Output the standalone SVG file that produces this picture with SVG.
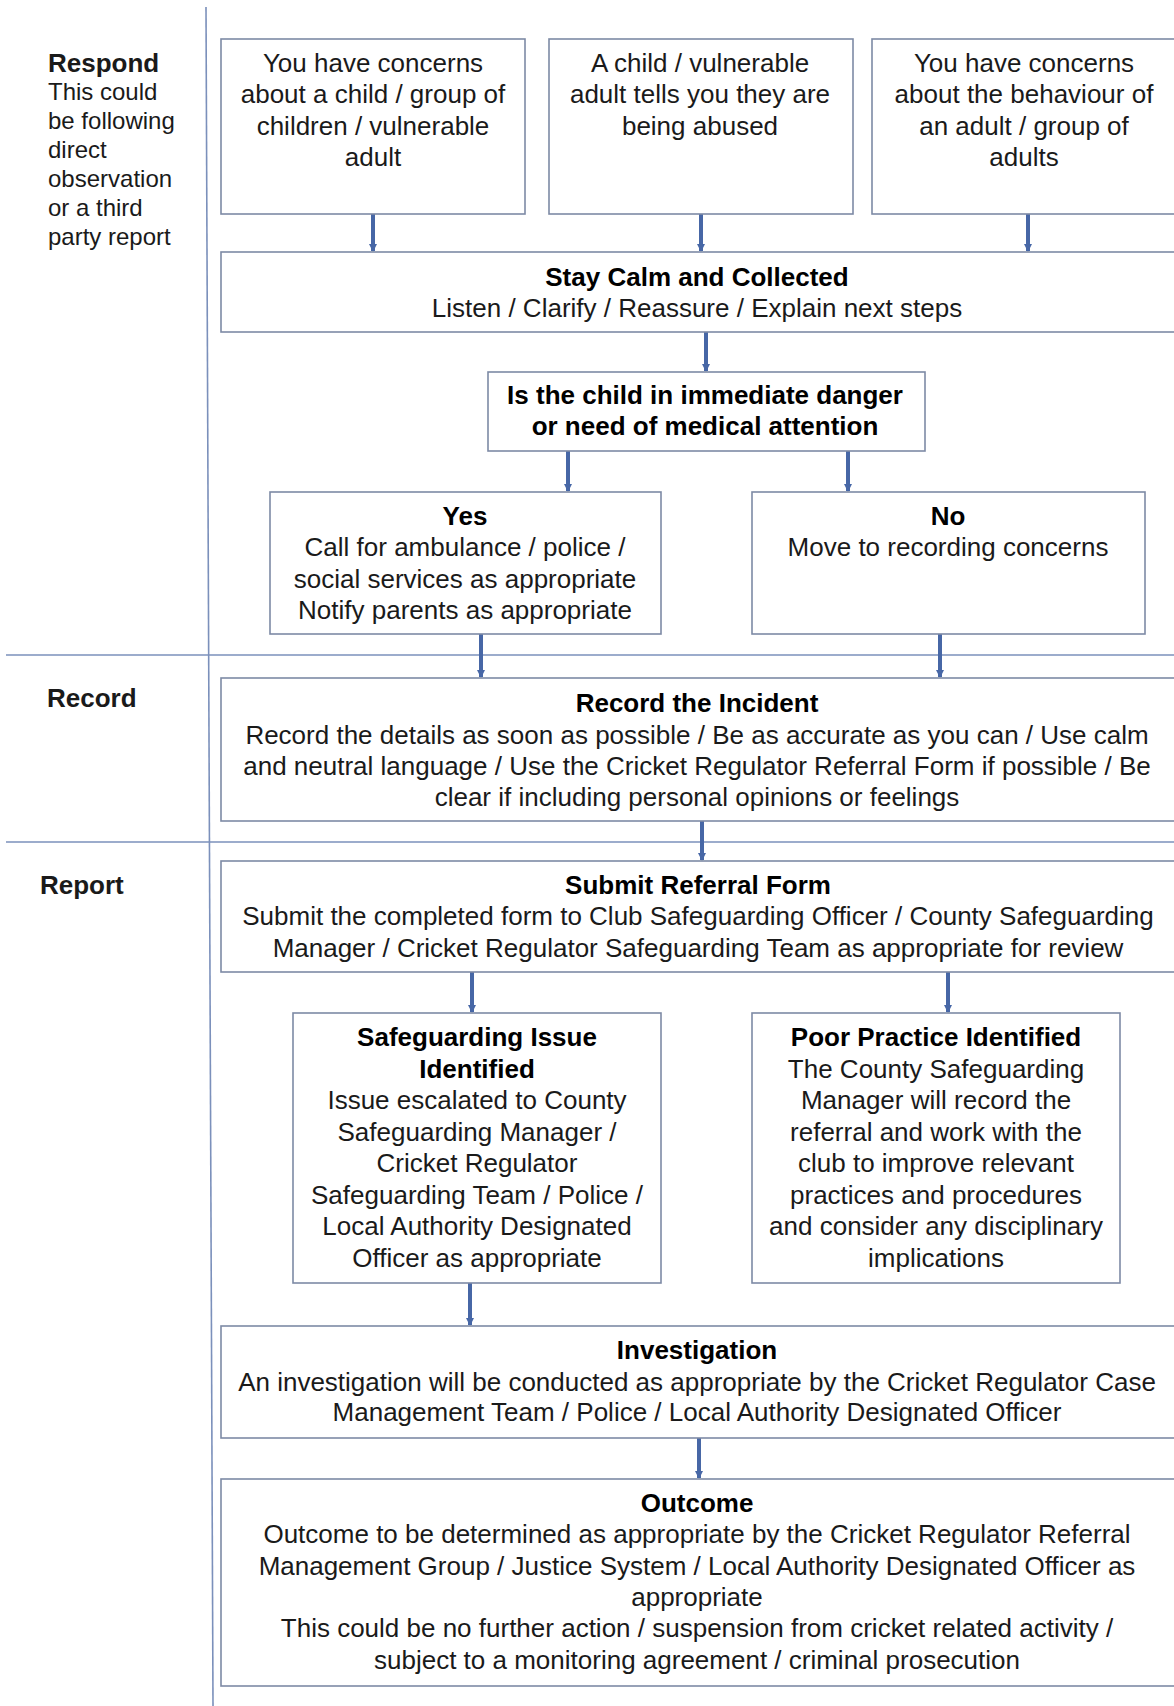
<svg xmlns="http://www.w3.org/2000/svg" width="1174" height="1706" viewBox="0 0 1174 1706">
<defs>
<style>
.box{fill:#ffffff;stroke:#7d8aa5;stroke-width:1.6}
.sep{stroke:#7b90bb;stroke-width:1.6;fill:none}
.con{stroke:#4767a6;stroke-width:4;fill:none;marker-end:url(#arr)}
.t{font-family:"Liberation Sans",Arial,sans-serif;font-size:26px;fill:#1a1a1a;text-anchor:middle}
.b{font-weight:bold;fill:#000}
.lab{font-family:"Liberation Sans",Arial,sans-serif;fill:#1a1a1a}
</style>
<marker id="arr" viewBox="0 0 8 8" refX="7" refY="4" markerWidth="2" markerHeight="2" orient="auto" markerUnits="strokeWidth">
<path d="M0,0 L8,4 L0,8 z" fill="#4767a6"/>
</marker>
</defs>
<rect width="1174" height="1706" fill="#ffffff"/>

<g id="lanes">
<line class="sep" x1="206" y1="7" x2="213" y2="1706"/>
<line class="sep" x1="6" y1="655" x2="1174" y2="655"/>
<line class="sep" x1="6" y1="842" x2="1174" y2="842"/>
<text class="lab" x="48" y="72" font-size="26" font-weight="bold" fill="#000">Respond</text>
<text class="lab" font-size="24">
<tspan x="48" y="100">This could</tspan>
<tspan x="48" y="129">be following</tspan>
<tspan x="48" y="158">direct</tspan>
<tspan x="48" y="187">observation</tspan>
<tspan x="48" y="216">or a third</tspan>
<tspan x="48" y="245">party report</tspan>
</text>
<text class="lab" x="47" y="707" font-size="26" font-weight="bold" fill="#000">Record</text>
<text class="lab" x="40" y="894" font-size="26" font-weight="bold" fill="#000">Report</text>
</g>

<g id="connectors">
<line class="con" x1="373" y1="214" x2="373" y2="251"/>
<line class="con" x1="701" y1="214" x2="701" y2="251"/>
<line class="con" x1="1028" y1="214" x2="1028" y2="251"/>
<line class="con" x1="706" y1="332" x2="706" y2="371"/>
<line class="con" x1="568" y1="451" x2="568" y2="491"/>
<line class="con" x1="848" y1="451" x2="848" y2="491"/>
<line class="con" x1="481" y1="634" x2="481" y2="677"/>
<line class="con" x1="940" y1="634" x2="940" y2="677"/>
<line class="con" x1="702" y1="821" x2="702" y2="860"/>
<line class="con" x1="472" y1="972" x2="472" y2="1012"/>
<line class="con" x1="948" y1="972" x2="948" y2="1012"/>
<line class="con" x1="470" y1="1283" x2="470" y2="1325"/>
<line class="con" x1="699" y1="1438" x2="699" y2="1478"/>
</g>

<g id="concern-child">
<rect class="box" x="221" y="39" width="304" height="175"/>
<text class="t"><tspan x="373" y="72">You have concerns</tspan><tspan x="373" y="103">about a child / group of</tspan><tspan x="373" y="135">children / vulnerable</tspan><tspan x="373" y="166">adult</tspan></text>
</g>
<g id="child-tells">
<rect class="box" x="549" y="39" width="304" height="175"/>
<text class="t"><tspan x="700" y="72">A child / vulnerable</tspan><tspan x="700" y="103">adult tells you they are</tspan><tspan x="700" y="135">being abused</tspan></text>
</g>
<g id="concern-adult">
<rect class="box" x="872" y="39" width="310" height="175"/>
<text class="t"><tspan x="1024" y="72">You have concerns</tspan><tspan x="1024" y="103">about the behaviour of</tspan><tspan x="1024" y="135">an adult / group of</tspan><tspan x="1024" y="166">adults</tspan></text>
</g>
<g id="stay-calm">
<rect class="box" x="221" y="252" width="960" height="80"/>
<text class="t"><tspan class="b" x="697" y="286">Stay Calm and Collected</tspan><tspan x="697" y="317">Listen / Clarify / Reassure / Explain next steps</tspan></text>
</g>
<g id="decision">
<rect class="box" x="488" y="372" width="437" height="79"/>
<text class="t b"><tspan x="705" y="404">Is the child in immediate danger</tspan><tspan x="705" y="435">or need of medical attention</tspan></text>
</g>
<g id="yes">
<rect class="box" x="270" y="492" width="391" height="142"/>
<text class="t"><tspan class="b" x="465" y="525">Yes</tspan><tspan x="465" y="556">Call for ambulance / police /</tspan><tspan x="465" y="588">social services as appropriate</tspan><tspan x="465" y="619">Notify parents as appropriate</tspan></text>
</g>
<g id="no">
<rect class="box" x="752" y="492" width="393" height="142"/>
<text class="t"><tspan class="b" x="948" y="525">No</tspan><tspan x="948" y="556">Move to recording concerns</tspan></text>
</g>
<g id="record">
<rect class="box" x="221" y="678" width="960" height="143"/>
<text class="t"><tspan class="b" x="697" y="712">Record the Incident</tspan><tspan x="697" y="744">Record the details as soon as possible / Be as accurate as you can / Use calm</tspan><tspan x="697" y="775">and neutral language / Use the Cricket Regulator Referral Form if possible / Be</tspan><tspan x="697" y="806">clear if including personal opinions or feelings</tspan></text>
</g>
<g id="submit">
<rect class="box" x="221" y="861" width="960" height="111"/>
<text class="t"><tspan class="b" x="698" y="894">Submit Referral Form</tspan><tspan x="698" y="925">Submit the completed form to Club Safeguarding Officer / County Safeguarding</tspan><tspan x="698" y="957">Manager / Cricket Regulator Safeguarding Team as appropriate for review</tspan></text>
</g>
<g id="safeguarding-issue">
<rect class="box" x="293" y="1013" width="368" height="270"/>
<text class="t"><tspan class="b" x="477" y="1046">Safeguarding Issue</tspan><tspan class="b" x="477" y="1078">Identified</tspan><tspan x="477" y="1109">Issue escalated to County</tspan><tspan x="477" y="1141">Safeguarding Manager /</tspan><tspan x="477" y="1172">Cricket Regulator</tspan><tspan x="477" y="1204">Safeguarding Team / Police /</tspan><tspan x="477" y="1235">Local Authority Designated</tspan><tspan x="477" y="1267">Officer as appropriate</tspan></text>
</g>
<g id="poor-practice">
<rect class="box" x="752" y="1013" width="368" height="270"/>
<text class="t"><tspan class="b" x="936" y="1046">Poor Practice Identified</tspan><tspan x="936" y="1078">The County Safeguarding</tspan><tspan x="936" y="1109">Manager will record the</tspan><tspan x="936" y="1141">referral and work with the</tspan><tspan x="936" y="1172">club to improve relevant</tspan><tspan x="936" y="1204">practices and procedures</tspan><tspan x="936" y="1235">and consider any disciplinary</tspan><tspan x="936" y="1267">implications</tspan></text>
</g>
<g id="investigation">
<rect class="box" x="221" y="1326" width="960" height="112"/>
<text class="t"><tspan class="b" x="697" y="1359">Investigation</tspan><tspan x="697" y="1391">An investigation will be conducted as appropriate by the Cricket Regulator Case</tspan><tspan x="697" y="1421">Management Team / Police / Local Authority Designated Officer</tspan></text>
</g>
<g id="outcome">
<rect class="box" x="221" y="1479" width="960" height="207"/>
<text class="t"><tspan class="b" x="697" y="1512">Outcome</tspan><tspan x="697" y="1543">Outcome to be determined as appropriate by the Cricket Regulator Referral</tspan><tspan x="697" y="1575">Management Group / Justice System / Local Authority Designated Officer as</tspan><tspan x="697" y="1606">appropriate</tspan><tspan x="697" y="1637">This could be no further action / suspension from cricket related activity /</tspan><tspan x="697" y="1669">subject to a monitoring agreement / criminal prosecution</tspan></text>
</g>
</svg>
